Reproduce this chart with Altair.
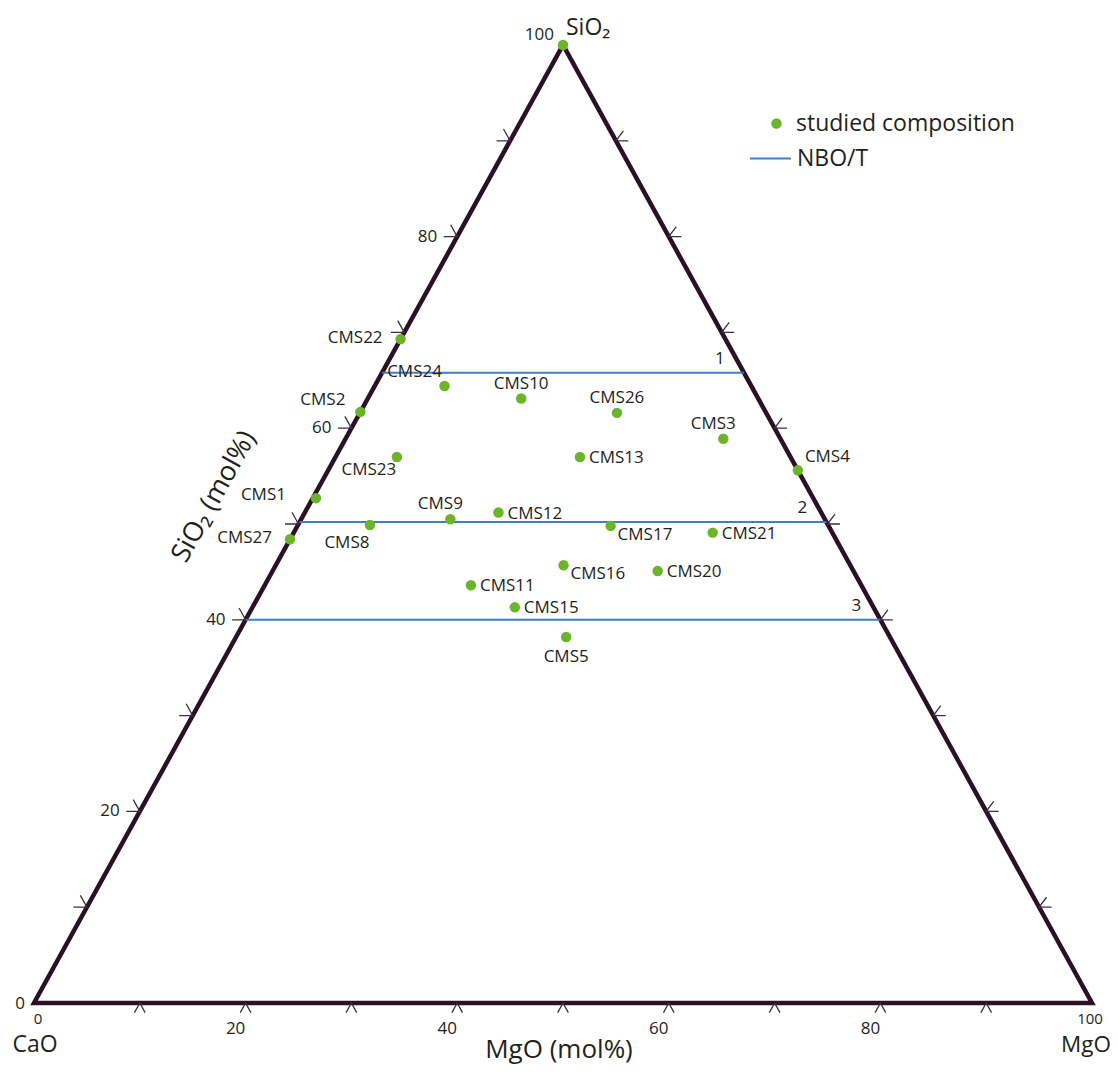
import altair as alt
import pandas as pd

# ---------------- data ----------------
# Studied compositions: SiO2 and MgO in mol%, CaO = 100 - SiO2 - MgO
sample_names = ["", "CMS22", "CMS24", "CMS10", "CMS26", "CMS2", "CMS3", "CMS4",
                "CMS23", "CMS13", "CMS1", "CMS9", "CMS12", "CMS8", "CMS27",
                "CMS17", "CMS21", "CMS16", "CMS20", "CMS11", "CMS15", "CMS5"]
sample_sio2 = [100, 69.3, 64.4, 63.1, 61.6, 61.7, 58.9, 55.6, 57.0, 57.0, 52.7,
               50.5, 51.2, 49.9, 48.4, 49.8, 49.1, 45.7, 45.1, 43.6, 41.3, 38.2]
sample_mgo = [0, 0, 6.6, 14.5, 24.3, 0, 35.7, 44.4, 5.8, 23.1, 0.3,
              14.1, 18.3, 6.8, 0, 29.6, 39.6, 27.2, 36.4, 19.5, 24.8, 31.2]
# where each sample label sits relative to its point
label_place = ["none", "l", "aL", "a", "a", "la", "al", "ra", "bl", "r", "lf",
               "al", "r", "bl2", "l", "rb", "r", "rb", "r", "r", "r", "b"]

# NBO/T iso-lines (constant SiO2)
nbo_names = ["1", "2", "3"]
nbo_sio2 = [65.8, 50.2, 40.0]

tick_values = [10, 20, 30, 40, 50, 60, 70, 80, 90]
tick_labels = [0, 20, 40, 60, 80, 100]

vertex_names = ["CaO", "MgO", "SiO₂"]
vertex_sio2 = [0, 0, 100]
vertex_mgo = [0, 100, 0]

# ---------------- styling ----------------
FONT = "Open Sans"
TXT = "#231f20"
GREEN = "#6cb42c"
BLUE = "#3f7fc8"
EDGE = "#2a1126"
TICK = "#3a3038"


def tern(sio2, mgo):
    """ternary -> cartesian (x along CaO-MgO base, y = SiO2 height)"""
    return [m + s / 2 for s, m in zip(sio2, mgo)], list(sio2)


xs = alt.Scale(domain=[0, 100], nice=False, zero=False)
ys = alt.Scale(domain=[0, 100], nice=False, zero=False)
X = alt.X("x:Q", scale=xs, axis=None)
Y = alt.Y("y:Q", scale=ys, axis=None)

# samples
sx, sy = tern(sample_sio2, sample_mgo)
samples = pd.DataFrame({"name": sample_names, "x": sx, "y": sy,
                        "place": label_place,
                        "kind": ["studied composition"] * len(sample_names)})

# triangle
tx, ty = tern(vertex_sio2, vertex_mgo)
tri = pd.DataFrame({"x": tx, "y": ty, "o": list(range(len(tx))), "name": vertex_names})

triangle = alt.Chart(tri).mark_line(
    interpolate="linear-closed", strokeWidth=4.5, color=EDGE, strokeJoin="miter"
).encode(x=X, y=Y, order="o:Q")

# NBO/T lines
nbo = pd.DataFrame({"name": nbo_names, "y": nbo_sio2,
                    "x": [s / 2 for s in nbo_sio2],
                    "x2": [100 - s / 2 for s in nbo_sio2],
                    "kind2": ["NBO/T"] * len(nbo_names)})
nbo_lines = alt.Chart(nbo).mark_rule(strokeWidth=2).encode(
    x=X, x2="x2:Q", y=Y,
    stroke=alt.Stroke("kind2:N",
                      scale=alt.Scale(domain=["NBO/T"], range=[BLUE]),
                      legend=alt.Legend(title=None, orient="none", legendX=715, legendY=92,
                                        symbolType="stroke", symbolSize=1681,
                                        symbolStrokeWidth=2, labelFontSize=23,
                                        labelFont=FONT, labelColor=TXT, labelOffset=5,
                                        padding=0, labelLimit=400)))
nbo_text = alt.Chart(nbo).mark_text(
    font=FONT, fontSize=17, color=TXT, align="center", baseline="middle", dx=-24, dy=-14
).encode(x=alt.X("x2:Q", scale=xs, axis=None), y=Y, text="name:N")

# ticks
BOTTOM_TICK = "M -0.485 0.874 L 0 0 L 0.485 0.874"
LEFT_TICK = "M -1 0 L 0 0 L -0.485 -0.874"
RIGHT_TICK = "M 1 0 L 0 0 L 0.6 -0.8"

bt = pd.DataFrame({"x": tick_values, "y": [0] * len(tick_values)})
lt = pd.DataFrame({"x": [t / 2 for t in tick_values], "y": tick_values})
rt = pd.DataFrame({"x": [100 - t / 2 for t in tick_values], "y": tick_values})


def tick_layer(df, shape, size):
    return alt.Chart(df).mark_point(shape=shape, filled=False, size=size, opacity=1,
                                    strokeWidth=1.3, color=TICK).encode(x=X, y=Y)


ticks = [tick_layer(bt, BOTTOM_TICK, 484), tick_layer(lt, LEFT_TICK, 730),
         tick_layer(rt, RIGHT_TICK, 620)]

# tick labels
bl = pd.DataFrame({"x": tick_labels, "y": [0] * len(tick_labels), "t": [str(v) for v in tick_labels]})
ll = pd.DataFrame({"x": [v / 2 for v in tick_labels], "y": tick_labels, "t": [str(v) for v in tick_labels]})


def txt(df, align, dx, dy, size=17, baseline="middle", **kw):
    return alt.Chart(df).mark_text(font=FONT, fontSize=size, color=TXT, align=align,
                                   baseline=baseline, dx=dx, dy=dy, **kw).encode(
        x=X, y=Y, text="t:N")


ends = [0, 100]
tick_text = [
    txt(bl[bl.x == 0], "center", 4, 16, size=15),
    txt(bl[bl.x == 100], "center", -2, 16, size=15),
    txt(bl[~bl.x.isin(ends)], "center", -10, 26),
    txt(ll[ll.y == 0], "right", -9, 1),
    txt(ll[(ll.y > 0) & (ll.y < 100)], "right", -20, 0),
    txt(ll[ll.y == 100], "right", -9, -10),
]

# vertex names
vt = tri.rename(columns={"name": "t"})
vertex_text = [
    txt(vt[vt.t == "CaO"], "center", 1, 42, size=23),
    txt(vt[vt.t == "MgO"], "center", -6, 42, size=22.5),
    txt(vt[vt.t == "SiO₂"], "left", 3, -17, size=23),
]

# axis titles
at1 = pd.DataFrame({"x": [50], "y": [0], "t": ["MgO (mol%)"]})
at2 = pd.DataFrame({"x": [25], "y": [50], "t": ["SiO₂ (mol%)"]})
axis_titles = [
    txt(at1, "center", -4, 55, size=26, baseline="alphabetic"),
    txt(at2, "center", -17, -87, size=27, angle=299),
]

# points
points = alt.Chart(samples).mark_circle(size=110, opacity=1).encode(
    x=X, y=Y,
    fill=alt.Fill("kind:N",
                  scale=alt.Scale(domain=["studied composition"], range=[GREEN]),
                  legend=alt.Legend(title=None, orient="none", legendX=731, legendY=67,
                                    symbolType="circle", symbolSize=110, symbolOpacity=1,
                                    symbolStrokeWidth=0, labelFontSize=23, labelFont=FONT,
                                    labelColor=TXT, labelOffset=8, padding=0,
                                    labelLimit=400)))

# sample labels
PLACE = {
    "r": ("left", 9, 1),
    "rb": ("left", 7, 9),
    "ra": ("left", 7, -13),
    "l": ("right", -18, -1),
    "lf": ("right", -30, -3),
    "la": ("right", -15, -12),
    "a": ("center", 0, -15),
    "al": ("center", -10, -15),
    "aL": ("center", -30, -14),
    "b": ("center", 0, 20),
    "bl": ("center", -28, 13),
    "bl2": ("center", -23, 18),
}
sl = samples.rename(columns={"name": "t"})
sample_text = [txt(sl[sl.place == k], a, dx, dy) for k, (a, dx, dy) in PLACE.items()]

chart = alt.layer(
    triangle, nbo_lines, *ticks, points, nbo_text, *tick_text, *vertex_text,
    *axis_titles, *sample_text
).properties(
    width=1058, height=958,
    autosize=alt.AutoSizeParams(type="none"),
    padding={"left": 26, "top": 37, "right": 18, "bottom": 64},
    background="white",
).configure_view(strokeWidth=0)

chart.save("out.html", embed_options={"renderer": "svg", "actions": False})
